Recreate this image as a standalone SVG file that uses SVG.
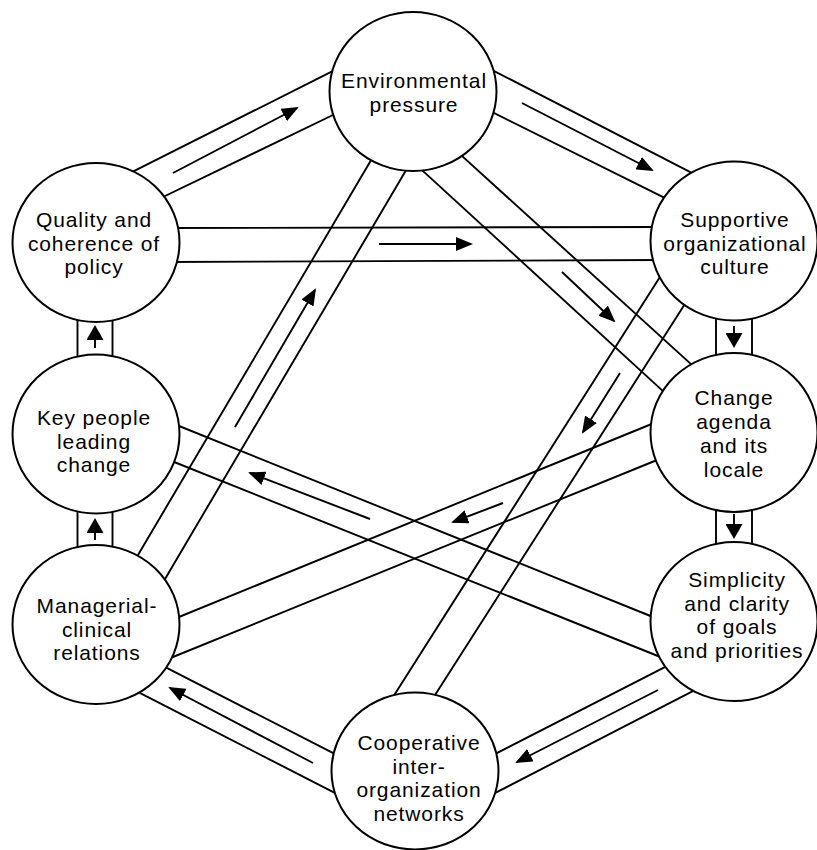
<svg xmlns="http://www.w3.org/2000/svg" width="817" height="850" viewBox="0 0 817 850">
<style>
.band line{stroke:#000;stroke-width:1.9;fill:none}
.band line.arr{marker-end:url(#ah)}
.band line.varr{marker-end:url(#vh)}
.node ellipse{fill:#fff;stroke:#000;stroke-width:2}
.node text{font-family:"Liberation Sans",Arial,sans-serif;font-size:21px;letter-spacing:0.9px;fill:#000;text-anchor:middle}
</style>
<defs>
<marker id="ah" markerUnits="userSpaceOnUse" markerWidth="17" markerHeight="14" refX="15" refY="7" orient="auto" viewBox="0 0 17 14">
<path d="M0,0 L17,7 L0,14 z" fill="#000"/>
</marker>
<marker id="vh" markerUnits="userSpaceOnUse" markerWidth="15" markerHeight="17" refX="13" refY="8.5" orient="auto" viewBox="0 0 15 17">
<path d="M0,0 L15,8.5 L0,17 z" fill="#000"/>
</marker>
</defs>
<rect width="817" height="850" fill="#fff"/>
<g id="connectors" class="band">
<!-- A Quality -> Environmental -->
<line x1="126.9" y1="174.6" x2="338.1" y2="68.4"/>
<line x1="157.8" y1="199.5" x2="340.2" y2="111.5"/>
<line class="arr" x1="173" y1="173" x2="297" y2="108"/>
<!-- B Environmental -> Supportive -->
<line x1="486.9" y1="67.3" x2="697.1" y2="175.7"/>
<line x1="486.8" y1="109.4" x2="670.2" y2="200.6"/>
<line class="arr" x1="522" y1="103" x2="652" y2="170"/>
<!-- C Quality -> Supportive -->
<line x1="171" y1="228" x2="660" y2="227"/>
<line x1="168" y1="262" x2="660" y2="260"/>
<line class="arr" x1="379" y1="244" x2="471" y2="244"/>
<!-- D Environmental -> Change -->
<line x1="417.1" y1="165.6" x2="670.9" y2="398.4"/>
<line x1="456.1" y1="150.6" x2="697.9" y2="370.4"/>
<line class="arr" x1="562" y1="272" x2="614" y2="321"/>
<!-- E Supportive -> Cooperative -->
<line x1="662.3" y1="273.2" x2="388.7" y2="703.8"/>
<line x1="687.3" y1="300.3" x2="430.7" y2="701.7"/>
<line class="arr" x1="620" y1="373" x2="583" y2="432"/>
<!-- F Managerial -> Environmental -->
<line x1="133.9" y1="561.9" x2="374.1" y2="155.1"/>
<line x1="160.9" y1="585.9" x2="409.1" y2="165.1"/>
<line class="arr" x1="235" y1="427" x2="315" y2="290"/>
<!-- G Change -> Managerial -->
<line x1="661.4" y1="420" x2="171.6" y2="620"/>
<line x1="664.4" y1="457" x2="165.6" y2="660"/>
<line class="arr" x1="503" y1="503" x2="453" y2="522"/>
<!-- H Simplicity -> Key people -->
<line x1="660.4" y1="620" x2="171.6" y2="423"/>
<line x1="670.4" y1="661" x2="166.6" y2="459"/>
<line class="arr" x1="370" y1="519" x2="250" y2="473"/>
<!-- I Simplicity -> Cooperative -->
<line x1="674.1" y1="662.4" x2="489.9" y2="756.6"/>
<line x1="700.1" y1="687.3" x2="489.9" y2="795.7"/>
<line class="arr" x1="658" y1="690" x2="517" y2="762"/>
<!-- J Cooperative -> Managerial -->
<line x1="340.1" y1="756.6" x2="159.9" y2="664.4"/>
<line x1="340.1" y1="795.6" x2="132.9" y2="689.4"/>
<line class="arr" x1="313" y1="763" x2="170" y2="688"/>
<!-- K Key people -> Quality -->
<line x1="77.5" y1="312" x2="77.5" y2="365"/>
<line x1="112.5" y1="312" x2="112.5" y2="365"/>
<line class="varr" x1="95" y1="348" x2="95" y2="327"/>
<!-- L Managerial -> Key people -->
<line x1="77.5" y1="503" x2="77.5" y2="556"/>
<line x1="112.5" y1="503" x2="112.5" y2="556"/>
<line class="varr" x1="95" y1="540" x2="95" y2="520"/>
<!-- M Supportive -> Change -->
<line x1="716" y1="310" x2="716" y2="363"/>
<line x1="752" y1="310" x2="752" y2="363"/>
<line class="varr" x1="734" y1="326" x2="734" y2="346"/>
<!-- N Change -> Simplicity -->
<line x1="716" y1="503" x2="716" y2="552"/>
<line x1="752" y1="503" x2="752" y2="552"/>
<line class="varr" x1="734" y1="514" x2="734" y2="537"/>
</g>
<g id="environmental" class="node">
<ellipse cx="413" cy="91.5" rx="83.5" ry="79.5"/>
<text x="414" y="88">Environmental<tspan x="414" dy="23.5">pressure</tspan></text>
</g>
<g id="quality" class="node">
<ellipse cx="96" cy="242.5" rx="83.5" ry="79.5"/>
<text x="94" y="227">Quality and<tspan x="94" dy="23.5">coherence of</tspan><tspan x="94" dy="23.5">policy</tspan></text>
</g>
<g id="supportive" class="node">
<ellipse cx="734" cy="241" rx="83.5" ry="79.5"/>
<text x="735" y="227">Supportive<tspan x="735" dy="23.5">organizational</tspan><tspan x="735" dy="23.5">culture</tspan></text>
</g>
<g id="keypeople" class="node">
<ellipse cx="96" cy="434" rx="83.5" ry="79.5"/>
<text x="94" y="425">Key people<tspan x="94" dy="23.5">leading</tspan><tspan x="94" dy="23.5">change</tspan></text>
</g>
<g id="change" class="node">
<ellipse cx="734" cy="432.5" rx="83.5" ry="79.5"/>
<text x="734" y="405">Change<tspan x="734" dy="24">agenda</tspan><tspan x="734" dy="24">and its</tspan><tspan x="734" dy="24">locale</tspan></text>
</g>
<g id="managerial" class="node">
<ellipse cx="96" cy="624.5" rx="83.5" ry="79.5"/>
<text x="97" y="613">Managerial-<tspan x="97" dy="23.5">clinical</tspan><tspan x="97" dy="23.5">relations</tspan></text>
</g>
<g id="simplicity" class="node">
<ellipse cx="734" cy="621.5" rx="83.5" ry="79.5"/>
<text x="737" y="587">Simplicity<tspan x="737" dy="23.5">and clarity</tspan><tspan x="737" dy="23.5">of goals</tspan><tspan x="737" dy="23.5">and priorities</tspan></text>
</g>
<g id="cooperative" class="node">
<ellipse cx="415" cy="771" rx="83.5" ry="78.5"/>
<text x="419" y="750">Cooperative<tspan x="419" dy="23.5">inter-</tspan><tspan x="419" dy="23.5">organization</tspan><tspan x="419" dy="23.5">networks</tspan></text>
</g>
</svg>
